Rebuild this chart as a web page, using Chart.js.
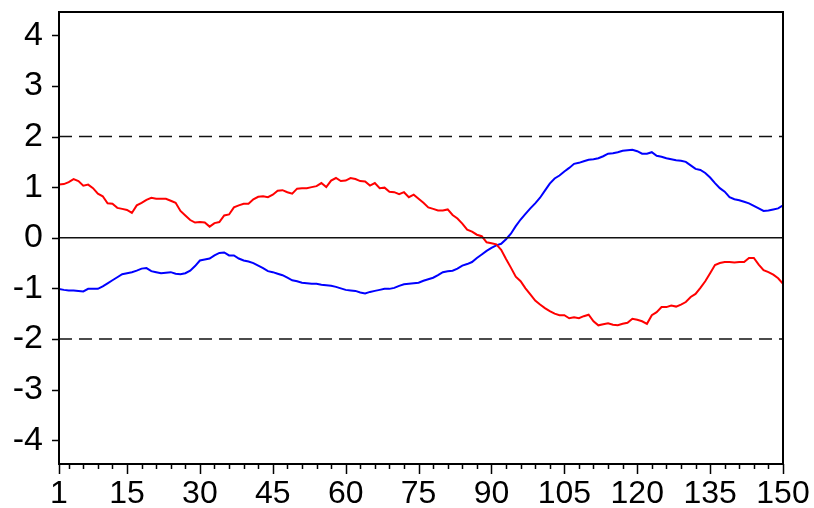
<!DOCTYPE html>
<html>
<head>
<meta charset="utf-8">
<script src="https://cdn.jsdelivr.net/npm/chart.js@4.4.0/dist/chart.umd.min.js"></script>
<style>
  html, body { margin: 0; padding: 0; background: #fff; }
  #wrap { width: 814px; height: 508px; }
</style>
</head>
<body>
<div id="wrap"><canvas id="myChart1"></canvas></div>
<script>
// observations 1..150
const obs = Array.from({ length: 150 }, (_, i) => i + 1);

const serieRoja = [
  1.05, 1.06, 1.10, 1.16, 1.12, 1.03, 1.05, 0.98, 0.87, 0.82,
  0.68, 0.67, 0.59, 0.57, 0.55, 0.49, 0.64, 0.69, 0.75, 0.79,
  0.77, 0.77, 0.77, 0.73, 0.69, 0.53, 0.44, 0.35, 0.30, 0.31,
  0.30, 0.22, 0.29, 0.31, 0.44, 0.46, 0.60, 0.64, 0.67, 0.67,
  0.76, 0.81, 0.82, 0.80, 0.85, 0.93, 0.94, 0.90, 0.87, 0.97,
  0.98, 0.98, 1.00, 1.02, 1.08, 1.00, 1.13, 1.18, 1.12, 1.13,
  1.18, 1.16, 1.12, 1.11, 1.03, 1.08, 0.98, 0.99, 0.91, 0.90,
  0.86, 0.90, 0.80, 0.85, 0.77, 0.69, 0.60, 0.57, 0.54, 0.54,
  0.56, 0.45, 0.38, 0.28, 0.16, 0.12, 0.06, 0.03, -0.09, -0.11,
  -0.13, -0.24, -0.42, -0.59, -0.77, -0.86, -1.00, -1.12, -1.24, -1.32,
  -1.39, -1.45, -1.50, -1.53, -1.53, -1.59, -1.57, -1.59, -1.55, -1.52,
  -1.65, -1.73, -1.71, -1.69, -1.72, -1.73, -1.70, -1.68, -1.60, -1.62,
  -1.65, -1.70, -1.53, -1.47, -1.37, -1.37, -1.34, -1.36, -1.32, -1.27,
  -1.17, -1.11, -0.99, -0.86, -0.70, -0.54, -0.50, -0.48, -0.48, -0.49,
  -0.48, -0.48, -0.40, -0.40, -0.53, -0.64, -0.68, -0.73, -0.80, -0.91
];

const serieAzul = [
  -1.01, -1.03, -1.04, -1.04, -1.05, -1.06, -1.01, -1.01, -1.01, -0.96,
  -0.90, -0.84, -0.78, -0.72, -0.70, -0.68, -0.65, -0.61, -0.60, -0.66,
  -0.68, -0.70, -0.69, -0.68, -0.71, -0.72, -0.70, -0.65, -0.56, -0.45,
  -0.43, -0.41, -0.35, -0.30, -0.29, -0.35, -0.35, -0.41, -0.45, -0.47,
  -0.50, -0.55, -0.60, -0.66, -0.68, -0.71, -0.74, -0.79, -0.84, -0.86,
  -0.89, -0.90, -0.91, -0.91, -0.93, -0.94, -0.95, -0.97, -1.00, -1.03,
  -1.04, -1.05, -1.08, -1.10, -1.07, -1.05, -1.03, -1.01, -1.01, -0.99,
  -0.95, -0.92, -0.91, -0.90, -0.89, -0.85, -0.82, -0.79, -0.74, -0.68,
  -0.66, -0.65, -0.61, -0.55, -0.52, -0.48, -0.40, -0.33, -0.26, -0.20,
  -0.15, -0.12, -0.03, 0.08, 0.23, 0.36, 0.47, 0.58, 0.68, 0.79,
  0.93, 1.07, 1.17, 1.23, 1.31, 1.38, 1.46, 1.48, 1.51, 1.54,
  1.55, 1.57, 1.61, 1.66, 1.67, 1.69, 1.72, 1.73, 1.74, 1.71,
  1.66, 1.66, 1.69, 1.62, 1.60, 1.57, 1.55, 1.53, 1.52, 1.50,
  1.43, 1.36, 1.34, 1.28, 1.19, 1.08, 0.98, 0.91, 0.80, 0.76,
  0.74, 0.71, 0.68, 0.63, 0.58, 0.53, 0.54, 0.56, 0.58, 0.64
];

// lineas de referencia: 0 y bandas +/-2
const lineaCero = 0;
const bandas = [2, -2];

// marcas de los ejes
const ticksX = [1].concat(Array.from({ length: 50 }, (_, i) => (i + 1) * 3));
const etiquetasX = [1, 15, 30, 45, 60, 75, 90, 105, 120, 135, 150];
const ticksY = [-4, -3, -2, -1, 0, 1, 2, 3, 4];

const xMin = 1, xMax = 150;
const yMin = -4.47, yMax = 4.46;

const pts = (arr) => arr.map((v, i) => ({ x: obs[i], y: v }));
const horiz = (v) => [{ x: xMin, y: v }, { x: xMax, y: v }];
const familia = 'Arial, "Liberation Sans", sans-serif';

// marco y marcas de los ejes
const marcoPlugin = {
  id: 'marco',
  afterDraw(chart) {
    const { ctx, chartArea: a, scales } = chart;
    ctx.save();
    ctx.strokeStyle = '#000';
    ctx.lineWidth = 1.5;
    ctx.beginPath();
    ticksX.forEach((v) => {
      const px = Math.round(scales.x.getPixelForValue(v)) + 0.5;
      const len = etiquetasX.includes(v) ? 10 : 5;
      ctx.moveTo(px, a.bottom);
      ctx.lineTo(px, a.bottom + len);
    });
    ticksY.forEach((v) => {
      const py = Math.round(scales.y.getPixelForValue(v)) + 0.5;
      ctx.moveTo(a.left, py);
      ctx.lineTo(a.left - 7, py);
    });
    ctx.stroke();
    ctx.lineWidth = 2;
    ctx.strokeRect(a.left, a.top, a.right - a.left, a.bottom - a.top);
    ctx.restore();
  }
};

const ctx = document.getElementById('myChart1');

new Chart(ctx, {
  type: 'line',
  data: {
    datasets: [
      { data: horiz(lineaCero), borderColor: '#111', borderWidth: 1.5, pointRadius: 0 },
      { data: horiz(bandas[0]), borderColor: '#111', borderWidth: 1.5, borderDash: [13, 7], pointRadius: 0 },
      { data: horiz(bandas[1]), borderColor: '#111', borderWidth: 1.5, borderDash: [13, 7], pointRadius: 0 },
      { data: pts(serieRoja), borderColor: '#ff0000', borderWidth: 2, pointRadius: 0, tension: 0 },
      { data: pts(serieAzul), borderColor: '#0000ff', borderWidth: 2, pointRadius: 0, tension: 0 }
    ]
  },
  options: {
    responsive: true,
    maintainAspectRatio: false,
    animation: false,
    layout: { padding: { top: 12, right: 31, left: 0, bottom: 0 } },
    plugins: {
      legend: { display: false },
      tooltip: { enabled: false }
    },
    scales: {
      x: {
        type: 'linear',
        min: xMin,
        max: xMax,
        grid: { display: false, drawTicks: false },
        border: { display: false },
        afterBuildTicks: (scale) => {
          scale.ticks = ticksX.map((v) => ({ value: v }));
        },
        afterFit: (scale) => {
          scale.height = 44;
          scale.paddingLeft = 0;
          scale.paddingRight = 0;
        },
        ticks: {
          autoSkip: false,
          maxRotation: 0,
          padding: 11,
          color: '#000',
          font: { family: familia, size: 32 },
          callback: (v) => (etiquetasX.includes(v) ? String(v) : '')
        }
      },
      y: {
        min: yMin,
        max: yMax,
        grid: { display: false, drawTicks: false },
        border: { display: false },
        afterBuildTicks: (scale) => {
          scale.ticks = ticksY.map((v) => ({ value: v }));
        },
        afterFit: (scale) => {
          scale.width = 59;
          scale.paddingTop = 0;
          scale.paddingBottom = 0;
        },
        ticks: {
          padding: 16,
          color: '#000',
          font: { family: familia, size: 34 }
        }
      }
    }
  },
  plugins: [marcoPlugin]
});
</script>
</body>
</html>
